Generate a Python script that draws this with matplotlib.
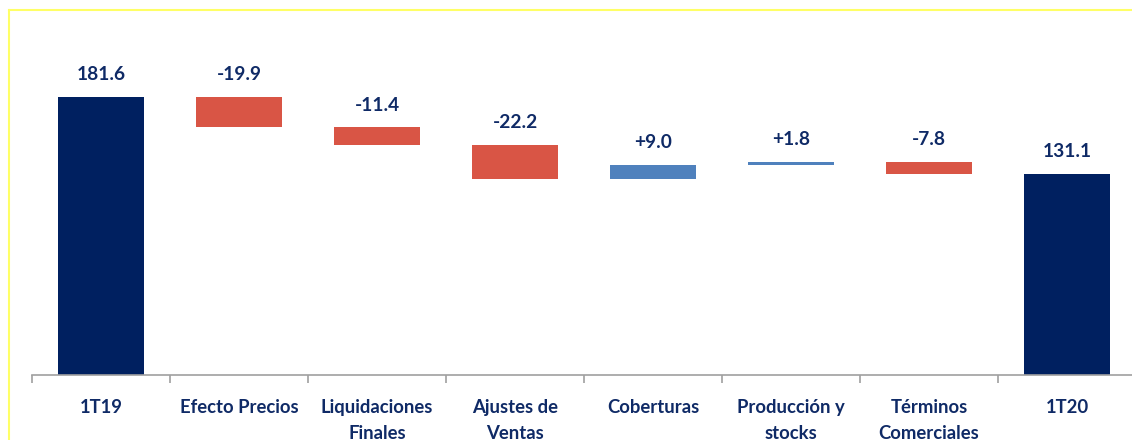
import numpy as np
import matplotlib.pyplot as plt
from matplotlib.lines import Line2D

categories = ["1T19", "Efecto Precios", "Liquidaciones\nFinales", "Ajustes de\nVentas",
              "Coberturas", "Producción y\nstocks", "Términos\nComerciales", "1T20"]
values = [181.6, -19.9, -11.4, -22.2, 9.0, 1.8, -7.8, 131.1]
labels = ["181.6", "-19.9", "-11.4", "-22.2", "+9.0", "+1.8", "-7.8", "131.1"]
is_total = [True, False, False, False, False, False, False, True]

navy = "#002060"
red = "#D95545"
blue = "#4F81BD"
txt = "#0F2A66"

plt.rcParams['font.family'] = ['Lato', 'DejaVu Sans']

# waterfall bottoms/heights
bottoms, heights, colors = [], [], []
running = 0.0
for v, tot in zip(values, is_total):
    if tot:
        bottoms.append(0)
        heights.append(v)
        colors.append(navy)
        running = v
    else:
        new = running + v
        bottoms.append(min(running, new))
        heights.append(abs(v))
        colors.append(blue if v > 0 else red)
        running = new

W, H = 1132, 440
fig = plt.figure(figsize=(W / 100, H / 100), dpi=100)
# axes: x from 32px to 1136px, y baseline at 375px
ymax = 225
px_per_unit = (375 - 97) / 181.6
top_px = 375 - ymax * px_per_unit
ax = fig.add_axes([32 / W, 1 - 375 / H, (1136 - 32) / W, (375 - top_px) / H])

x = np.arange(len(categories))
ax.bar(x, heights, bottom=bottoms, width=0.63, color=colors)
ax.set_xlim(-0.5, len(categories) - 0.5)
ax.set_ylim(0, ymax)

for xi, b, h, lab in zip(x, bottoms, heights, labels):
    ax.annotate(lab, (xi, b + h), xytext=(0, 10), textcoords="offset points",
                ha="center", va="bottom", fontsize=13.8, fontweight="bold", color=txt)

for s in ["top", "right", "left"]:
    ax.spines[s].set_visible(False)
ax.spines["bottom"].set_color("#A0A0A0")
ax.spines["bottom"].set_linewidth(1.2)
ax.set_yticks([])
ax.set_xticks(np.arange(len(categories) + 1) - 0.5, minor=False)
ax.set_xticklabels([])
ax.tick_params(axis="x", length=6, color="#A0A0A0", width=1.2)

for xi, c in zip(x, categories):
    ax.text(xi, -15.5, c, ha="center", va="top", fontsize=13.3, fontweight="bold",
            color=txt, linespacing=1.65)

# yellow frame
fig.add_artist(Line2D([9 / W, 1], [1 - 10 / H, 1 - 10 / H], color="#FFFF66", lw=1.5,
                      transform=fig.transFigure))
fig.add_artist(Line2D([9 / W, 9 / W], [0, 1 - 10 / H], color="#FFFF66", lw=1.5,
                      transform=fig.transFigure))

fig.savefig("out.png", dpi=100)
